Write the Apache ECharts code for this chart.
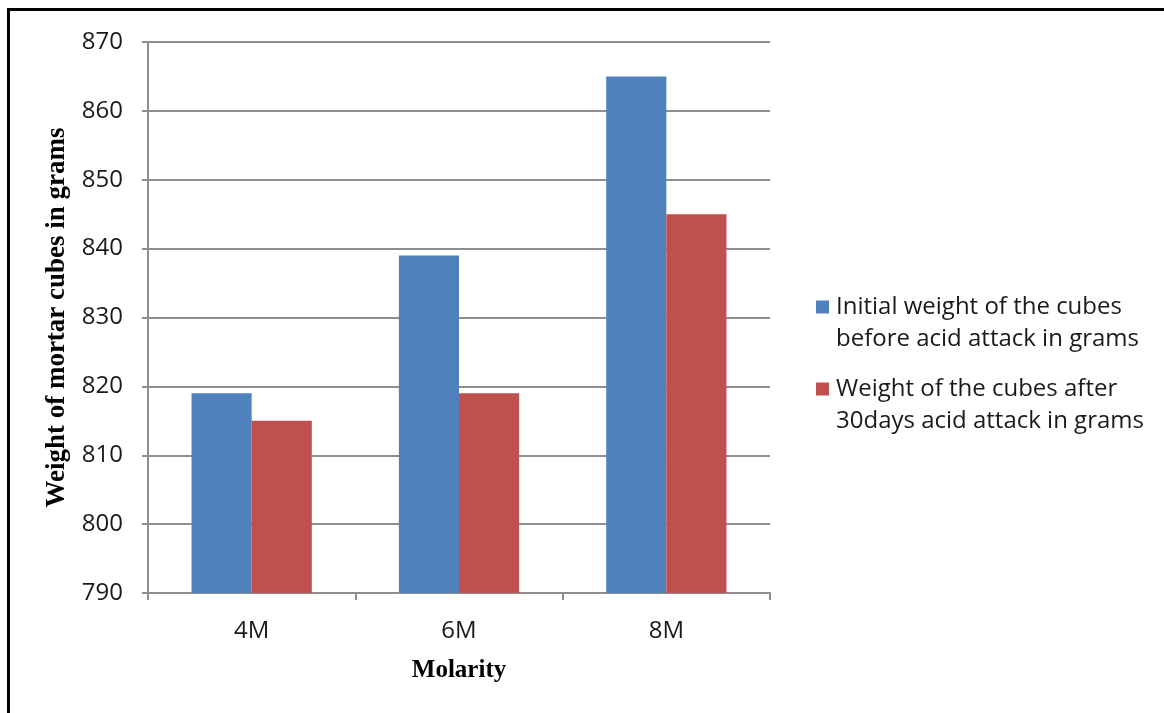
<!DOCTYPE html>
<html>
<head>
<meta charset="utf-8">
<style>
html,body{margin:0;padding:0;background:#fff;}
#chart{width:1164px;height:713px;}
</style>
<script src="https://cdn.jsdelivr.net/npm/echarts@6/dist/echarts.min.js"></script>
</head>
<body>
<div id="chart"></div>
<script>
const categories = ['4M', '6M', '8M'];
const initialWeight = [819, 839, 865];
const afterAcidWeight = [815, 819, 845];
const seriesNames = [
  'Initial weight of the cubes\nbefore acid attack in grams',
  'Weight of the cubes after\n30days acid attack in grams'
];
const yTitle = 'Weight of mortar cubes in grams';
const xTitle = 'Molarity';

const chart = echarts.init(document.getElementById('chart'), null, {renderer: 'canvas'});
const sans = '"Open Sans", "Liberation Sans", sans-serif';
const serif = '"Liberation Serif", "DejaVu Serif", serif';
const gridColor = '#8e8e8e';

chart.setOption({
  animation: false,
  backgroundColor: '#fff',
  graphic: [{
    type: 'rect',
    shape: {x: 8.5, y: 9.5, width: 2000, height: 2000},
    style: {fill: 'none', stroke: '#000', lineWidth: 3},
    silent: true
  }],
  grid: {left: 148, right: 394, top: 42, bottom: 120, containLabel: false},
  legend: {
    orient: 'vertical',
    left: 816,
    top: 259,
    padding: 0,
    itemWidth: 13,
    itemHeight: 13,
    itemGap: -14,
    icon: 'rect',
    formatter: function (name) { return '\n' + name; },
    textStyle: {fontFamily: sans, fontSize: 24, lineHeight: 32, color: '#1a1a1a', padding: [0, 0, 0, 2]},
    data: seriesNames
  },
  xAxis: {
    type: 'category',
    data: categories,
    name: xTitle,
    nameLocation: 'middle',
    nameGap: 65,
    nameTextStyle: {fontFamily: serif, fontWeight: 'bold', fontSize: 25, color: '#000'},
    axisLine: {lineStyle: {color: gridColor, width: 2}},
    axisTick: {show: true, length: 7, alignWithLabel: false, lineStyle: {color: gridColor, width: 2}},
    axisLabel: {fontFamily: sans, fontSize: 24, color: '#1a1a1a', margin: 26}
  },
  yAxis: {
    type: 'value',
    min: 790,
    max: 870,
    interval: 10,
    name: yTitle,
    nameLocation: 'middle',
    nameGap: 75,
    nameRotate: 90,
    nameTextStyle: {fontFamily: serif, fontWeight: 'bold', fontSize: 27, color: '#000'},
    axisLine: {show: true, lineStyle: {color: gridColor, width: 2}},
    axisTick: {show: true, length: 6, lineStyle: {color: gridColor, width: 2}},
    axisLabel: {fontFamily: sans, fontSize: 24, color: '#1a1a1a', margin: 25},
    splitLine: {show: true, lineStyle: {color: gridColor, width: 2}}
  },
  series: [
    {
      name: seriesNames[0],
      type: 'bar',
      data: initialWeight,
      barGap: '0%',
      barCategoryGap: '42%',
      itemStyle: {color: '#4f81bd'}
    },
    {
      name: seriesNames[1],
      type: 'bar',
      data: afterAcidWeight,
      barGap: '0%',
      barCategoryGap: '42%',
      itemStyle: {color: '#c0504d'}
    }
  ]
});
</script>
</body>
</html>
